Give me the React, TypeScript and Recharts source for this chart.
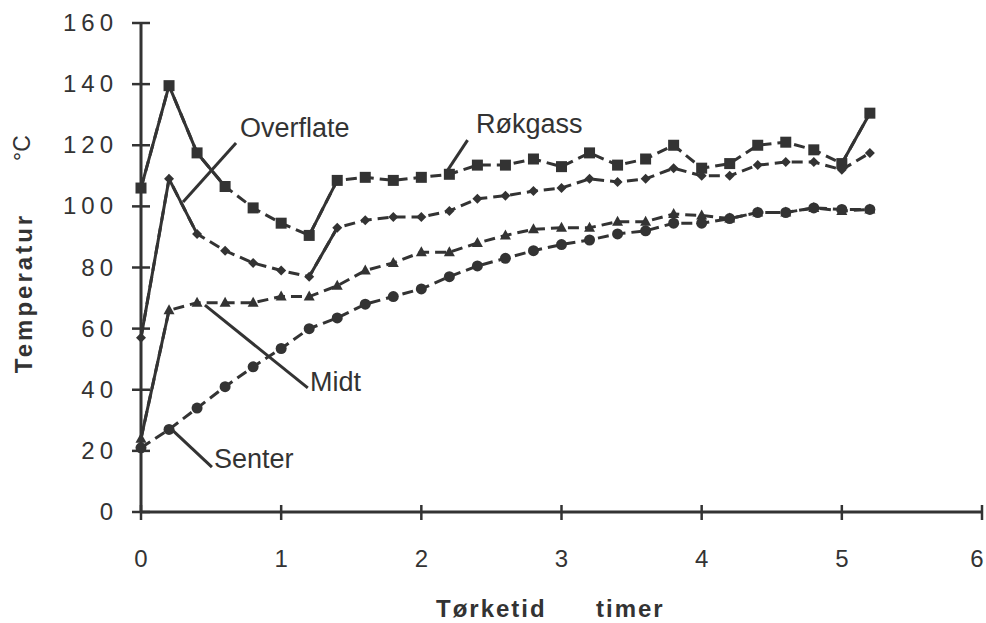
import { LineChart, Line, XAxis, YAxis, ReferenceLine } from "recharts";

// drying time in hours, one reading every 12 minutes
const HOURS = [0, 0.2, 0.4, 0.6, 0.8, 1, 1.2, 1.4, 1.6, 1.8, 2, 2.2, 2.4, 2.6, 2.8, 3, 3.2, 3.4, 3.6, 3.8, 4, 4.2, 4.4, 4.6, 4.8, 5, 5.2];

const ROKGASS = [106, 139.5, 117.5, 106.5, 99.5, 94.5, 90.5, 108.5, 109.5, 108.5, 109.5, 110.5, 113.5, 113.5, 115.5, 113, 117.5, 113.5, 115.5, 120, 112.5, 114, 120, 121, 118.5, 114, 130.5];
const OVERFLATE = [57, 109, 91, 85.5, 81.5, 79, 77, 93, 95.5, 96.5, 96.5, 98.5, 102.5, 103.5, 105, 106, 109, 108, 109, 112.5, 110, 110, 113.5, 114.5, 114.5, 112, 117.5];
const MIDT = [24, 66, 68.5, 68.5, 68.5, 70.5, 70.5, 74, 79, 81.5, 85, 85, 88, 90.5, 92.5, 93, 93, 95, 95, 97.5, 97, 96, 98, 98, 99.5, 98.5, 99];
const SENTER = [21, 27, 34, 41, 47.5, 53.5, 60, 63.5, 68, 70.5, 73, 77, 80.5, 83, 85.5, 87.5, 89, 91, 92, 94.5, 94.5, 96, 98, 98, 99.5, 99, 99];

// indices where the plotter drew an unbroken stroke instead of dashes
const ROKGASS_SOLID = [0, 1, 2, 3, 6, 7, 25, 26];
const OVERFLATE_SOLID = [0, 1, 2, 6, 7];
const MIDT_SOLID = [0, 1];

const X_TICKS = [0, 1, 2, 3, 4, 5, 6];
const Y_TICKS = [0, 20, 40, 60, 80, 100, 120, 140, 160];

// leader lines from the series names to their curves (data coords)
const LEADERS = [
  { name: "Overflate", from: { x: 0.678, y: 120.7 }, to: { x: 0.3, y: 101.4 } },
  { name: "Røkgass", from: { x: 2.33, y: 121.7 }, to: { x: 2.18, y: 111.3 } },
  { name: "Midt", from: { x: 1.19, y: 40.6 }, to: { x: 0.456, y: 67.7 } },
  { name: "Senter", from: { x: 0.506, y: 14.7 }, to: { x: 0.207, y: 27.5 } },
];

const INK = "#333333";
const FONT = "'Liberation Sans', Arial, Helvetica, sans-serif";
const DASH = "11 6";

const pick = (arr: number[], idx: number[], i: number) => (idx.includes(i) ? arr[i] : null);

const rows = HOURS.map((t, i) => ({
  t,
  rokgass: ROKGASS[i],
  overflate: OVERFLATE[i],
  midt: MIDT[i],
  senter: SENTER[i],
  rokgassSolid: pick(ROKGASS, ROKGASS_SOLID, i),
  overflateSolid: pick(OVERFLATE, OVERFLATE_SOLID, i),
  midtSolid: pick(MIDT, MIDT_SOLID, i),
}));

function SquareDot({ cx, cy }: any) {
  if (cx == null || cy == null) return null;
  return <rect x={cx - 5.5} y={cy - 5.5} width={11} height={11} fill={INK} />;
}

function DiamondDot({ cx, cy }: any) {
  if (cx == null || cy == null) return null;
  return <path d={`M${cx},${cy - 5} L${cx + 5},${cy} L${cx},${cy + 5} L${cx - 5},${cy} Z`} fill={INK} />;
}

function TriangleDot({ cx, cy }: any) {
  if (cx == null || cy == null) return null;
  return <path d={`M${cx},${cy - 6} L${cx + 5.5},${cy + 4} L${cx - 5.5},${cy + 4} Z`} fill={INK} />;
}

function CircleDot({ cx, cy }: any) {
  if (cx == null || cy == null) return null;
  return <circle cx={cx} cy={cy} r={5.5} fill={INK} />;
}

function XTick({ x, y, payload }: any) {
  return (
    <g>
      <line x1={x} x2={x} y1={y - 7} y2={y + 8} stroke={INK} strokeWidth={2.5} />
      <text x={Math.min(x, 977)} y={y + 55} textAnchor="middle" fontSize={24} fill={INK} fontFamily={FONT}>
        {payload.value}
      </text>
    </g>
  );
}

function YTick({ x, y, payload }: any) {
  return (
    <g>
      <line x1={x - 9} x2={x + 9} y1={y} y2={y} stroke={INK} strokeWidth={2.5} />
      <text x={x - 23} y={y + 8} textAnchor="end" fontSize={24} letterSpacing={5} fill={INK} fontFamily={FONT}>
        {payload.value}
      </text>
    </g>
  );
}

export default function App() {
  return (
    <div style={{ position: "absolute", left: 0, top: 0, width: 986, height: 623, background: "#fff" }}>
      <LineChart width={986} height={623} data={rows} margin={{ top: 23, right: 4, left: 0, bottom: 0 }}>
        <XAxis
          dataKey="t"
          type="number"
          domain={[0, 6]}
          ticks={X_TICKS}
          interval={0}
          height={111}
          tickSize={0}
          tickMargin={0}
          tickLine={false}
          axisLine={{ stroke: INK, strokeWidth: 3 }}
          tick={<XTick />}
        />
        <YAxis
          type="number"
          domain={[0, 160]}
          ticks={Y_TICKS}
          interval={0}
          width={141}
          tickSize={0}
          tickMargin={0}
          tickLine={false}
          axisLine={{ stroke: INK, strokeWidth: 3 }}
          tick={<YTick />}
        />
        {LEADERS.map((l) => (
          <ReferenceLine
            key={l.name}
            segment={[l.from, l.to]}
            stroke={INK}
            strokeWidth={3}
            ifOverflow="visible"
          />
        ))}
        <Line dataKey="rokgass" stroke={INK} strokeWidth={3} strokeDasharray={DASH} dot={<SquareDot />} isAnimationActive={false} />
        <Line dataKey="overflate" stroke={INK} strokeWidth={3} strokeDasharray={DASH} dot={<DiamondDot />} isAnimationActive={false} />
        <Line dataKey="midt" stroke={INK} strokeWidth={3} strokeDasharray={DASH} dot={<TriangleDot />} isAnimationActive={false} />
        <Line dataKey="senter" stroke={INK} strokeWidth={3} strokeDasharray={DASH} dot={<CircleDot />} isAnimationActive={false} />
        <Line dataKey="rokgassSolid" stroke={INK} strokeWidth={3} dot={false} connectNulls={false} isAnimationActive={false} />
        <Line dataKey="overflateSolid" stroke={INK} strokeWidth={3} dot={false} connectNulls={false} isAnimationActive={false} />
        <Line dataKey="midtSolid" stroke={INK} strokeWidth={3} dot={false} connectNulls={false} isAnimationActive={false} />
      </LineChart>
      <svg width={986} height={623} style={{ position: "absolute", left: 0, top: 0, pointerEvents: "none" }}>
        <g fontFamily={FONT} fill={INK}>
          <text x={240} y={137} fontSize={27}>Overflate</text>
          <text x={476} y={133} fontSize={27}>Røkgass</text>
          <text x={310} y={391} fontSize={27}>Midt</text>
          <text x={214} y={468} fontSize={27}>Senter</text>
          <text transform="translate(32,293) rotate(-90)" textAnchor="middle" fontSize={24} fontWeight="bold" letterSpacing={3}>
            Temperatur
          </text>
          <text transform="translate(30,148) rotate(-90)" textAnchor="middle" fontSize={23}>
            °C
          </text>
          <text x={436} y={617} fontSize={24} fontWeight="bold" letterSpacing={2}>Tørketid</text>
          <text x={596} y={617} fontSize={24} fontWeight="bold" letterSpacing={2}>timer</text>
        </g>
      </svg>
    </div>
  );
}
